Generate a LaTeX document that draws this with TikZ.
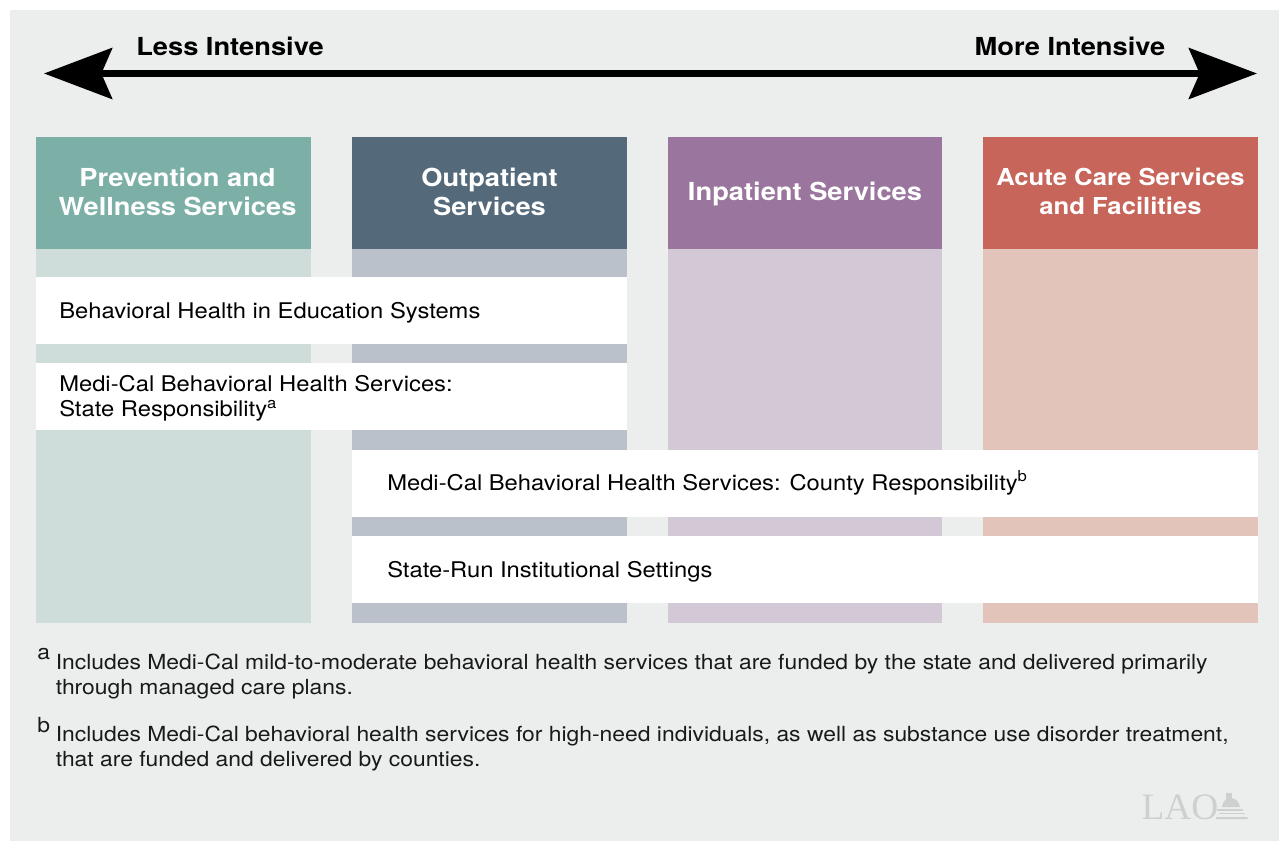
\documentclass[tikz,border=0pt]{standalone}
\usepackage{fontspec}
\setmainfont[FakeStretch=1.1]{TeX Gyre Heros}
\newfontfamily\logofont{Liberation Serif}
\usetikzlibrary{arrows.meta}
\definecolor{pagebg}{HTML}{ECEEED}
\definecolor{tealh}{HTML}{7CB0A7}
\definecolor{teall}{HTML}{CEDDD9}
\definecolor{slateh}{HTML}{54697A}
\definecolor{slatel}{HTML}{BBC1CA}
\definecolor{purph}{HTML}{9A769E}
\definecolor{purpl}{HTML}{D3C8D6}
\definecolor{redh}{HTML}{C7655A}
\definecolor{redl}{HTML}{E2C4BB}
\definecolor{logoc}{HTML}{CDD0CF}
\tikzset{
 x=0.75pt,y=-0.75pt,
 head/.style={anchor=center,text=white,align=center,font=\fontsize{18.6}{21.8}\selectfont\bfseries},
 band/.style={fill=white,draw=none},
 bandtext/.style={anchor=west,align=left,inner sep=0pt,font=\fontsize{16.2}{19}\selectfont,text=black},
 foot/.style={anchor=north west,align=left,font=\fontsize{15.6}{18.9}\selectfont,text=black!90,inner sep=0pt},
 endlabel/.style={inner sep=0pt,anchor=center,font=\fontsize{18.6}{20}\selectfont\bfseries},
}
\begin{document}
\begin{tikzpicture}
\useasboundingbox (0,0) rectangle (1283,841);
\fill[white] (0,0) rectangle (1283,841);
\fill[pagebg] (10,10) rectangle (1279,841);
% columns
\fill[teall] (36,249) rectangle (311,623);
\fill[slatel] (352,249) rectangle (626.5,623);
\fill[purpl] (668,249) rectangle (942,623);
\fill[redl] (983,249) rectangle (1258,623);
\fill[tealh] (36,137) rectangle (311,249);
\fill[slateh] (352,137) rectangle (626.5,249);
\fill[purph] (668,137) rectangle (942,249);
\fill[redh] (983,137) rectangle (1258,249);
\node[head] (h1) at (177.5,192) {Prevention and\\Wellness Services};
\node[head] (h2) at (489.5,192) {Outpatient\\Services};
\node[head] (h3) at (805,194) {Inpatient Services};
\node[head,font=\fontsize{17.5}{21.6}\selectfont\bfseries] (h4) at (1120.5,191.5) {Acute Care Services\\and Facilities};
% bands
\fill[band] (36,277) rectangle (626.5,344);
\fill[band] (36,363) rectangle (626.5,430);
\fill[band] (352,450) rectangle (1258,517);
\fill[band] (352,536) rectangle (1258,603);
\node[bandtext] (b1) at (59,313) {Behavioral Health in Education Systems};
\node[bandtext] (b2) at (59,398) {Medi-Cal Behavioral Health Services:\\State Responsibility\textsuperscript{a}};
\node[bandtext] (b3) at (387,483) {Medi-Cal Behavioral Health Services: County Responsibility\textsuperscript{b}};
\node[bandtext] (b4) at (387,572) {State-Run Institutional Settings};
% arrow
\coordinate (al) at (44,73.5);
\coordinate (ar) at (1257,73.5);
\draw[line width=5.6pt,{Stealth[length=51pt,width=38pt,inset=8pt]}-{Stealth[length=51pt,width=38pt,inset=8pt]}] (al) -- (ar);
\node[endlabel] (less) at (230,46.5) {Less Intensive};
\node[endlabel] (more) at (1070,46.5) {More Intensive};
% footnotes
\node[foot] (fa) at (37,648) {a};
\node[foot] (fat) at (55.5,653.5) {Includes Medi-Cal mild-to-moderate behavioral health services that are funded by the state and delivered primarily\\through managed care plans.};
\node[foot] (fb) at (37,717) {b};
\node[foot] (fbt) at (55.5,725.5) {Includes Medi-Cal behavioral health services for high-need individuals, as well as substance use disorder treatment,\\that are funded and delivered by counties.};
% logo
\node[inner sep=0pt,anchor=center,text=logoc,font=\logofont\fontsize{28}{28}\selectfont] (lao) at (1180,807) {LAO};
\fill[logoc] (1226,793) rectangle (1232,799);
\fill[logoc] (1222,807) .. controls (1223,800) and (1227,798) .. (1231,798) .. controls (1236,798) and (1239,802) .. (1240,807) -- cycle;
\draw[logoc,line width=0.9pt] (1217,810) -- (1243,810);
\draw[logoc,line width=0.9pt] (1219,813.5) -- (1245,813.5);
\fill[logoc] (1216,817) -- (1247,817) -- (1248,819) -- (1216,819) -- cycle;
\end{tikzpicture}
\end{document}
